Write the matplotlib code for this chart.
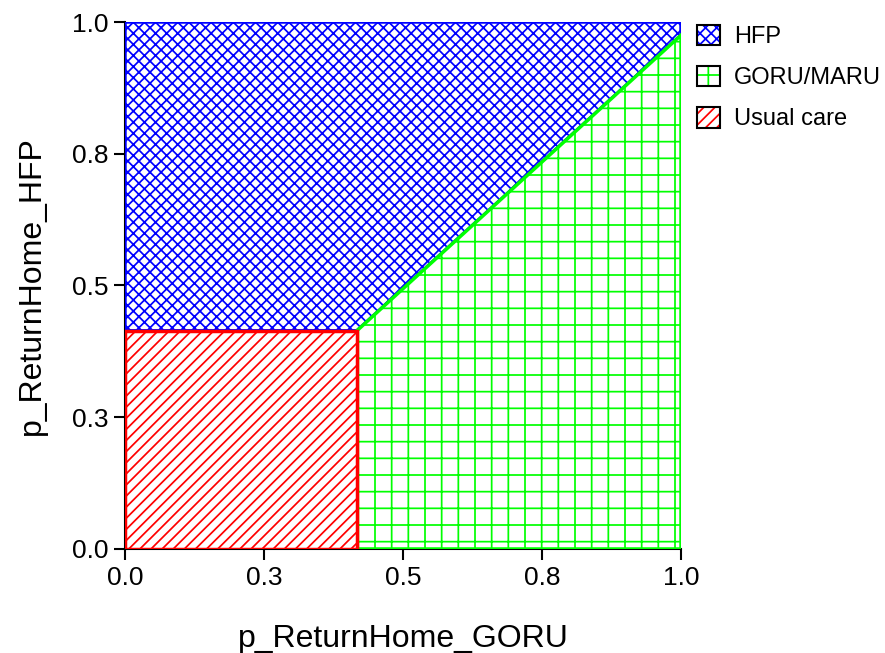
import matplotlib
matplotlib.use("Agg")
import matplotlib.pyplot as plt
from matplotlib.patches import Polygon, Rectangle
from matplotlib.legend_handler import HandlerTuple

plt.rcParams['font.family'] = ['Liberation Sans', 'DejaVu Sans']
plt.rcParams['hatch.linewidth'] = 1.25

# Decision regions (threshold lines)
usual_x = 0.417      # p_ReturnHome_GORU threshold
usual_y = 0.414      # p_ReturnHome_HFP threshold
diag_end_y = 0.975   # boundary HFP / GORU at x = 1

labels = ['HFP', 'GORU/MARU', 'Usual care']
colors = ['#0000ff', '#00ff00', '#ff0000']
hatches = ['xxx', '+', '///']
tick_vals = [0.0, 0.25, 0.5, 0.75, 1.0]
tick_labels = ['0.0', '0.3', '0.5', '0.8', '1.0']

regions = [
    [(0, usual_y), (0, 1), (1, 1), (1, diag_end_y), (usual_x, usual_y)],
    [(usual_x, 0), (1, 0), (1, diag_end_y), (usual_x, usual_y)],
    [(0, 0), (usual_x, 0), (usual_x, usual_y), (0, usual_y)],
]

fig = plt.figure(figsize=(8.85, 6.53), dpi=100)
ax = fig.add_axes([0.1412, 0.1593, 0.6283, 0.807])

handles = []
for pts, c, h, lab in zip(regions, colors, hatches, labels):
    ax.add_patch(Polygon(pts, closed=True, facecolor='white', edgecolor=c,
                         hatch=h, linewidth=2.5, zorder=2))
    hp = Rectangle((0, 0), 1, 1, facecolor='white', edgecolor=c, hatch=h, linewidth=0)
    bp = Rectangle((0, 0), 1, 1, facecolor='none', edgecolor='black', linewidth=1.5)
    handles.append((hp, bp))

ax.set_xlim(0, 1)
ax.set_ylim(0, 1)
ax.set_xticks(tick_vals)
ax.set_xticklabels(tick_labels)
ax.set_yticks(tick_vals)
ax.set_yticklabels(tick_labels)
ax.tick_params(direction='out', length=8, width=1.5, labelsize=19, pad=4)
ax.spines['top'].set_visible(False)
ax.spines['right'].set_visible(False)
ax.spines['left'].set_linewidth(1.5)
ax.spines['bottom'].set_linewidth(1.5)
ax.spines['left'].set_zorder(1)
ax.spines['bottom'].set_zorder(1)

ax.set_xlabel('p_ReturnHome_GORU', fontsize=23, labelpad=25)
ax.set_ylabel('p_ReturnHome_HFP', fontsize=23, labelpad=18)

ax.legend(handles, labels, handler_map={tuple: HandlerTuple(ndivide=1)},
          loc='upper left', bbox_to_anchor=(1.012, 1.012), frameon=False,
          fontsize=17, handlelength=0.95, handleheight=0.95, handletextpad=0.6,
          labelspacing=0.75, borderaxespad=0)

fig.savefig('out.png', dpi=100)
